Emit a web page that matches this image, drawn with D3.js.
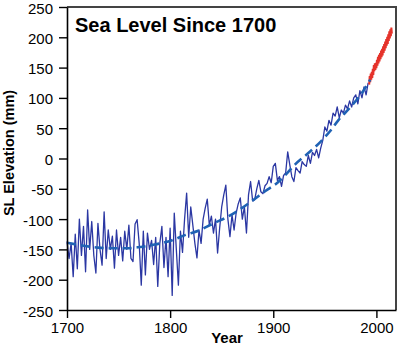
<!DOCTYPE html>
<html>
<head>
<meta charset="utf-8">
<script src="https://cdn.jsdelivr.net/npm/d3@7"></script>
<style>
html,body{margin:0;padding:0;background:#fff;}
svg{display:block;}
</style>
</head>
<body>
<svg id="chart" width="400" height="346"></svg>
<script>
// ---- data ----
const titleText = "Sea Level Since 1700";
const xLabel = "Year";
const yLabel = "SL Elevation (mm)";
const xTicks = [1700, 1800, 1900, 2000];
const yTicks = [-250, -200, -150, -100, -50, 0, 50, 100, 150, 200, 250];

// reconstructed (tide gauge) record, every 2 years from 1700 to 1992
const recYears = d3.range(1700, 1993, 2);
const recValues = [
  -137,-165,-140,-195,-125,-182,-100,-160,-112,-187,
  -85,-150,-104,-160,-189,-107,-150,-176,-88,-165,
  -118,-150,-128,-181,-118,-160,-130,-169,-120,-150,
  -110,-165,-170,-108,-101,-140,-209,-120,-192,-123,
  -150,-135,-175,-130,-211,-140,-112,-180,-130,-195,
  -115,-226,-90,-150,-209,-120,-155,-100,-57,-130,
  -80,-110,-140,-164,-118,-140,-100,-82,-67,-110,
  -95,-123,-100,-156,-115,-80,-60,-44,-100,-129,
  -93,-118,-90,-75,-65,-100,-80,-123,-60,-38,
  -70,-68,-50,-36,-55,-58,-45,-41,-30,-40,
  -13,-8,-36,-30,-46,-28,-24,11,-10,-30,
  -38,-15,-20,-24,-5,-10,-13,5,-8,10,
  5,15,1,17,30,52,45,63,55,75,
  70,85,67,80,75,88,82,95,85,100,
  105,90,112,100,118,105,125
];

// satellite altimetry record, half-yearly 1993-2015
const satYears = d3.range(1993, 2015.01, 0.5);
const satValues = [
  122,136,126,140,130,143,133,148,138,154,
  144,157,146,158,149,163,153,168,157,171,
  160,174,164,178,167,181,170,185,174,189,
  178,193,182,197,186,201,189,205,194,210,
  198,213,202,216,206
];

// smooth fitted trend
const trendYears  = [1700, 1713, 1730, 1745, 1760, 1771, 1785, 1800, 1815, 1829, 1842, 1855, 1865, 1881, 1892, 1904, 1913, 1921, 1934, 1946, 1955, 1963, 1975, 1985, 1994];
const trendValues = [-139, -143, -147, -148, -148, -146, -142, -136, -126, -118, -107, -97, -87, -68, -54, -40, -25, -10, 9, 28, 45, 63, 85, 106, 130];

// ---- layout ----
const W = 400, H = 346;
const m = {left: 67, right: 4, top: 7, bottom: 36};
const svg = d3.select("#chart");
const FONT = "Liberation Sans, Arial, Helvetica, sans-serif";

const x = d3.scaleLinear().domain([1700, 2019]).range([m.left, W - m.right]);
const y = d3.scaleLinear().domain([-250, 250]).range([H - m.bottom, m.top]);

// frame (top/right)
svg.append("path")
  .attr("d", `M${x(1700)},${y(250)}H${x(2019)}V${y(-250)}`)
  .attr("fill", "none").attr("stroke", "#444").attr("stroke-width", 2);

// data
const lineGen = d3.line().x(d => x(d[0])).y(d => y(d[1]));
svg.append("path")
  .datum(recYears.map((yr, i) => [yr, recValues[i]]))
  .attr("d", lineGen)
  .attr("fill", "none").attr("stroke", "#2b37a3").attr("stroke-width", 1.3)
  .attr("stroke-linejoin", "round");

svg.append("path")
  .datum(satYears.map((yr, i) => [yr, satValues[i]]))
  .attr("d", lineGen)
  .attr("fill", "none").attr("stroke", "#e5322a").attr("stroke-width", 2)
  .attr("stroke-linejoin", "miter");

svg.append("path")
  .datum(trendYears.map((yr, i) => [yr, trendValues[i]]))
  .attr("d", d3.line().x(d => x(d[0])).y(d => y(d[1])).curve(d3.curveMonotoneX))
  .attr("fill", "none").attr("stroke", "#1f62b4").attr("stroke-width", 2.6)
  .attr("stroke-dasharray", "9,5");

// axes
const yAxis = svg.append("g")
  .attr("transform", `translate(${m.left},0)`)
  .call(d3.axisLeft(y).tickValues(yTicks).tickSize(8).tickSizeOuter(0).tickPadding(6).tickFormat(d3.format("d")));
const xAxis = svg.append("g")
  .attr("transform", `translate(0,${H - m.bottom})`)
  .call(d3.axisBottom(x).tickValues(xTicks).tickSize(8).tickSizeOuter(0).tickPadding(4).tickFormat(d3.format("d")));

[yAxis, xAxis].forEach(g => {
  g.select(".domain").attr("stroke", "#000").attr("stroke-width", 1.6);
  g.selectAll(".tick line").attr("stroke", "#000").attr("stroke-width", 1.4);
  g.selectAll(".tick text").attr("fill", "#000").style("font-family", FONT).style("font-size", "15px");
});
yAxis.selectAll(".tick text").attr("dy", "0.4em").text(d => d < 0 ? "-" + Math.abs(d) : String(d));

// labels
svg.append("text")
  .attr("x", 75).attr("y", 32)
  .style("font-family", FONT).style("font-size", "20px").style("font-weight", "bold")
  .text(titleText);

svg.append("text")
  .attr("x", 227).attr("y", 343).attr("text-anchor", "middle")
  .style("font-family", FONT).style("font-size", "15px").style("font-weight", "bold")
  .text(xLabel);

svg.append("text")
  .attr("transform", `translate(14,153) rotate(-90)`).attr("text-anchor", "middle")
  .style("font-family", FONT).style("font-size", "14.5px").style("font-weight", "bold")
  .text(yLabel);
</script>
</body>
</html>
